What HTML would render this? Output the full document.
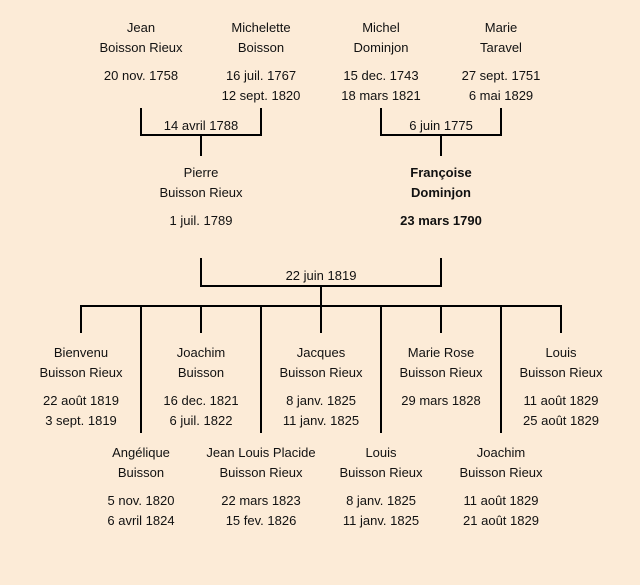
<!DOCTYPE html>
<html><head><meta charset="utf-8"><style>
html,body{margin:0;padding:0;background:#fcebd7;}
svg{display:block}
text{font-family:"Liberation Sans","DejaVu Sans",sans-serif;font-size:13px;fill:#111;text-anchor:middle}
.b{font-weight:bold}
</style></head><body>
<svg width="640" height="585" viewBox="0 0 640 585">
<rect width="640" height="585" fill="#fcebd7"/>
<g stroke="#000" stroke-width="2" fill="none">
<polyline points="141,108 141,135 261,135 261,108"/>
<line x1="201" y1="135" x2="201" y2="156"/>
<polyline points="381,108 381,135 501,135 501,108"/>
<line x1="441" y1="135" x2="441" y2="156"/>
<polyline points="201,258 201,286 441,286 441,258"/>
<line x1="321" y1="286" x2="321" y2="306"/>
<line x1="80" y1="306" x2="562" y2="306"/>
<line x1="81" y1="306" x2="81" y2="333"/>
<line x1="201" y1="306" x2="201" y2="333"/>
<line x1="321" y1="306" x2="321" y2="333"/>
<line x1="441" y1="306" x2="441" y2="333"/>
<line x1="561" y1="306" x2="561" y2="333"/>
<line x1="141" y1="306" x2="141" y2="433"/>
<line x1="261" y1="306" x2="261" y2="433"/>
<line x1="381" y1="306" x2="381" y2="433"/>
<line x1="501" y1="306" x2="501" y2="433"/>
</g>
<text x="141" y="32">Jean</text><text x="141" y="52">Boisson Rieux</text><text x="141" y="80">20 nov. 1758</text>
<text x="261" y="32">Michelette</text><text x="261" y="52">Boisson</text><text x="261" y="80">16 juil. 1767</text><text x="261" y="100">12 sept. 1820</text>
<text x="381" y="32">Michel</text><text x="381" y="52">Dominjon</text><text x="381" y="80">15 dec. 1743</text><text x="381" y="100">18 mars 1821</text>
<text x="501" y="32">Marie</text><text x="501" y="52">Taravel</text><text x="501" y="80">27 sept. 1751</text><text x="501" y="100">6 mai 1829</text>
<text x="201" y="130">14 avril 1788</text>
<text x="441" y="130">6 juin 1775</text>
<text x="201" y="177">Pierre</text><text x="201" y="197">Buisson Rieux</text><text x="201" y="225">1 juil. 1789</text>
<text class="b" x="441" y="177">Françoise</text><text class="b" x="441" y="197">Dominjon</text><text class="b" x="441" y="225">23 mars 1790</text>
<text x="321" y="280">22 juin 1819</text>
<text x="81" y="357">Bienvenu</text><text x="81" y="377">Buisson Rieux</text><text x="81" y="405">22 août 1819</text><text x="81" y="425">3 sept. 1819</text>
<text x="201" y="357">Joachim</text><text x="201" y="377">Buisson</text><text x="201" y="405">16 dec. 1821</text><text x="201" y="425">6 juil. 1822</text>
<text x="321" y="357">Jacques</text><text x="321" y="377">Buisson Rieux</text><text x="321" y="405">8 janv. 1825</text><text x="321" y="425">11 janv. 1825</text>
<text x="441" y="357">Marie Rose</text><text x="441" y="377">Buisson Rieux</text><text x="441" y="405">29 mars 1828</text>
<text x="561" y="357">Louis</text><text x="561" y="377">Buisson Rieux</text><text x="561" y="405">11 août 1829</text><text x="561" y="425">25 août 1829</text>
<text x="141" y="457">Angélique</text><text x="141" y="477">Buisson</text><text x="141" y="505">5 nov. 1820</text><text x="141" y="525">6 avril 1824</text>
<text x="261" y="457">Jean Louis Placide</text><text x="261" y="477">Buisson Rieux</text><text x="261" y="505">22 mars 1823</text><text x="261" y="525">15 fev. 1826</text>
<text x="381" y="457">Louis</text><text x="381" y="477">Buisson Rieux</text><text x="381" y="505">8 janv. 1825</text><text x="381" y="525">11 janv. 1825</text>
<text x="501" y="457">Joachim</text><text x="501" y="477">Buisson Rieux</text><text x="501" y="505">11 août 1829</text><text x="501" y="525">21 août 1829</text>
</svg>
</body></html>
